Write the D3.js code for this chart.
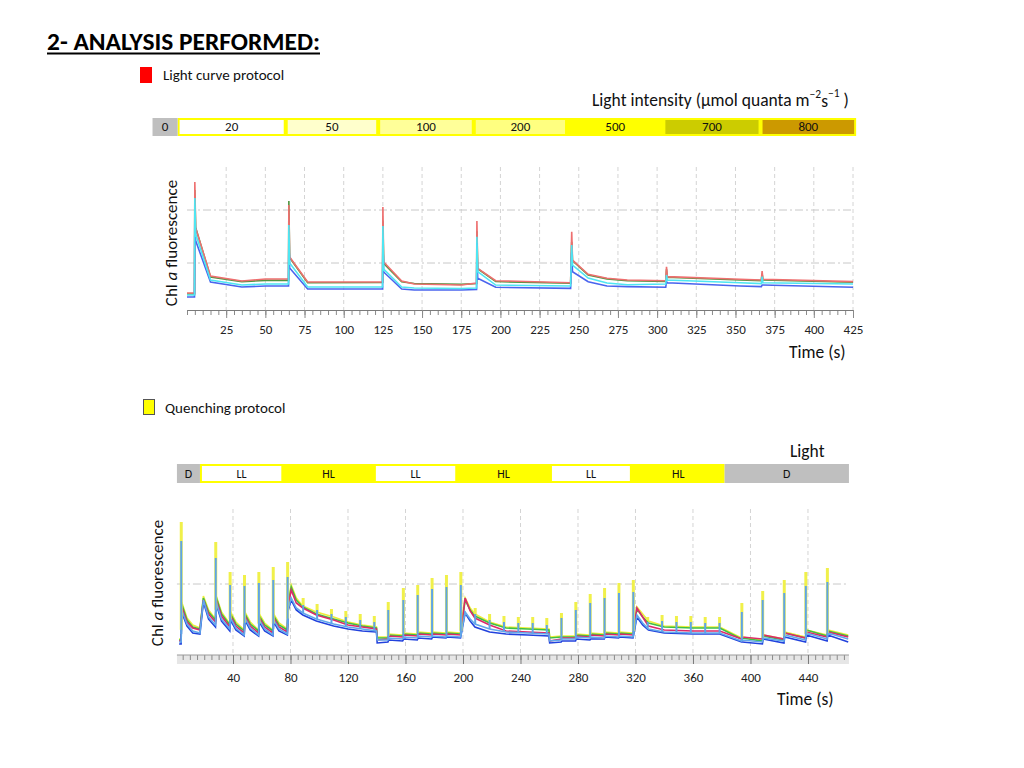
<!DOCTYPE html>
<html><head><meta charset="utf-8">
<script src="https://cdn.jsdelivr.net/npm/d3@7"></script>
<style>body{margin:0;background:#fff}svg{display:block}</style>
</head><body><svg id="chart"></svg>
<script>
// ================= DATA =================
// Light curve protocol: light steps (µmol quanta m-2 s-1) and their time edges (s)
const lightCurveLevels = ["0","20","50","100","200","500","700","800"];
const lightCurveEdges = [-22, -6, 63, 122, 183, 242.5, 304, 366, 427];
const lcTicks = [25,50,75,100,125,150,175,200,225,250,275,300,325,350,375,400,425];
const lcGrid = [50, 100];
// Light curve fluorescence (a.u.) for four samples
const lcTime  = [0,4.8,5,5.5,15,35,50,64.8,65,65.5,77,124.8,125,125.5,137,145,175,184.8,185,185.5,197,244.8,245.5,246,256,268,281,305.5,306,306.5,353,366.5,367,367.5,425];
const lcRed   = [21.7,21.7,126.4,83.0,37.7,33.0,34.9,34.9,104.7,55.7,32.1,32.1,102.8,50.9,33.0,30.2,29.2,31.1,89.6,45.0,33.3,31.4,79.5,52.8,39.3,35.6,34.0,33.3,46.5,37.1,34.6,34.0,42.5,34.6,32.4];
const lcGreen = [20.8,20.8,118.9,83.5,36.8,32.4,33.6,33.6,108.5,55.0,31.4,31.6,90.0,49.6,32.3,30.6,29.8,30.6,80.0,44.6,32.5,30.9,70.0,52.2,38.7,35.0,33.3,32.6,44.0,36.6,34.0,33.4,40.0,34.0,31.8];
const lcCyan  = [19.8,19.8,111.3,77.4,34.0,29.2,30.2,30.2,85.8,50.0,27.4,27.4,85.0,44.3,27.4,26.4,26.0,26.4,74.8,41.8,29.2,28.3,67.0,48.1,35.8,31.1,29.5,30.2,38.7,34.0,31.4,30.5,37.1,31.4,30.2];
const lcBlue  = [17.9,17.9,98.1,71.1,32.1,27.4,28.3,28.3,71.7,45.3,25.5,25.5,72.0,41.5,25.5,24.5,24.5,25.0,68.9,35.6,27.1,26.1,60.0,41.8,32.4,28.3,27.7,27.1,32.4,31.4,28.3,27.7,29.2,29.2,27.1];

// Quenching protocol: light phases and their time edges (s)
const qPhases = ["D","LL","HL","LL","HL","LL","HL","D"];
const qPhaseEdges = [1, 17, 75, 138, 196, 260.5, 317.5, 382, 468.5];
const qTicks = [40,80,120,160,200,240,280,320,360,400,440];
const qGrid = [76];
// Quenching fluorescence baseline (a.u.) for five samples
const qTime = [2.5,3.9,4.3,8,12,17,19.4,23,27.8,28.3,32,37.8,38.3,42,47.8,48.3,52,57.8,58.3,62,67.8,68.3,72,77.8,78.3,80.5,84,88.6,98,110,120,130,139.8,140.3,147.8,148.3,158,158.8,168.2,168.8,178.2,178.8,188.2,188.8,198.3,201.5,205,208.3,218.5,230,245,259.8,260.3,268.3,268.8,278.3,278.8,288.3,288.8,298.3,298.8,308.3,308.8,318.3,321,325,329,340,360,378.6,393.8,394.3,408.3,408.8,423.3,423.8,438.3,438.8,453.3,453.8,468];
const qYellow = [21,21,58,42,35,32,64,50,41,64, 48,36,48,38,30,48,38,30,46,37, 30,46,37,31,57,75,62,54,48,43, 38,35,33,23,23,26,25,27,26,28, 27,28,27,28,27,62,52,46,38,33, 32,31,23,24,24,24,26,25,27,26, 28,27,28,27,53,46,39,34,33,33, 22,23,20,25,21,28,23,30,25,30, 25];
const qGreen = [20,20,56,40,33,31,62,48,40,63, 46,35,46,36,29,46,36,29,44,35, 29,44,35,30,55,73,60,53,46,41, 37,34,32,22,22,25,24,26,25,27, 26,27,26,27,26,60,50,44,37,32, 31,30,22,23,23,23,25,24,26,25, 27,26,27,26,51,43,37,33,32,32, 21,22,19,24,20,27,22,30,24,29, 24];
const qRed = [19,19,53,38,32,30,60,46,38,60, 44,33,44,34,27,44,34,27,42,33, 27,42,33,28,53,70,57,52,45,40, 35,33,31,20,21,24,23,25,24,26, 25,26,25,26,25,62,49,42,35,29, 28,27,19,21,22,22,24,23,25,24, 26,25,26,25,52,43,34,30,29,29, 21,23,21,25,21,27,22,28,23,28, 23];
const qLightBlue = [18,18,50,36,29,27,60,43,35,58, 41,31,42,32,25,42,32,25,40,31, 25,40,31,26,51,62,52,47,41,36, 33,31,29,20,20,22,21,23,22,24, 23,24,23,24,23,48,41,36,31,28, 27,26,19,20,21,21,23,22,23,22, 24,23,24,23,45,37,31,28,27,27, 19,20,18,22,19,25,20,27,21,27, 21];
const qBlue = [16,16,48,34,27,26,58,41,33,56, 39,29,40,30,24,40,30,24,38,29, 24,38,29,25,49,60,50,45,39,34, 31,29,28,17,18,20,19,21,20,22, 21,23,22,23,22,47,39,33,28,26, 25,24,17,18,19,19,21,20,21,21, 23,22,23,22,43,35,30,27,26,26, 18,18,16,21,17,23,18,25,19,25, 18];
// Saturating pulses: time (s) and peak fluorescence
const qPulseTime = [4,28,38,48,58,68,78,88.8,98.5,108.5,118.5,128.5,138.3,148,158.5,168.5,178.5,188.5,198.5,208.5,218.5,228.5,238.5,248.5,258.3,268.5,278.5,288.5,298.5,308.5,318.5,328.5,338.5,348.5,358.5,368.5,378.5,394,408.5,423.5,438.5,453.5];
const qPulseYellow = [138,118,88,85,88,93,98,62,56,51,49,46,44,58,72,75,82,85,88,52,46,44,43,43,42,47,58,66,72,77,80,43,45,44,44,43,43,57,69,80,88,92];
const qPulseLightBlue = [119,102,75,74,77,80,83,55,50,46,43,40,38,50,60,65,71,73,75,46,40,38,37,37,35,42,50,57,62,67,68,38,39,38,38,37,37,48,60,67,74,78];

// ================= STYLE =================
const FONT = "Calibri, Carlito, Lato, 'Open Sans', sans-serif";
const LC_FILLS = ["#bfbfbf","#ffffff","#ffffcc","#ffff99","#ffff80","#ffff00","#cccc00","#cc9900"];

const svg = d3.select("#chart").attr("width",1024).attr("height",768)
  .style("font-family", FONT);
svg.append("rect").attr("width",1024).attr("height",768).attr("fill","#fff");

// ---- Title ----
svg.append("text").attr("x",47).attr("y",50).attr("font-size",25).attr("font-weight",700)
  .attr("textLength",273).attr("lengthAdjust","spacingAndGlyphs").attr("fill","#000")
  .text("2- ANALYSIS PERFORMED:");
svg.append("rect").attr("x",47).attr("y",52.5).attr("width",273).attr("height",2).attr("fill","#000");

// ================= TOP: LIGHT CURVE =================
svg.append("rect").attr("x",140).attr("y",67).attr("width",12).attr("height",16).attr("fill","#ff0000");
svg.append("text").attr("x",163).attr("y",80).attr("font-size",15).attr("fill","#111").text("Light curve protocol");

const li = svg.append("text").attr("x",592).attr("y",106).attr("font-size",17.5).attr("fill","#111");
li.append("tspan").text("Light  intensity (µmol quanta m");
li.append("tspan").attr("dy",-8).attr("font-size",11.5).text("−2");
li.append("tspan").attr("dy",9).text("s");
li.append("tspan").attr("dy",-10).attr("font-size",11.5).text("−1");
li.append("tspan").attr("dy",9).text(" )");

const xTop = d3.scaleLinear().domain([0,425]).range([187,853]);
const yTop = d3.scaleLinear().domain([0,150]).range([316,157]);
const topAxisY = 310;

// protocol bar
const barT = svg.append("g");
const tb0 = 118, tbH = 18;
barT.append("rect").attr("x",xTop(lightCurveEdges[1])).attr("y",tb0)
  .attr("width",xTop(lightCurveEdges[8])-xTop(lightCurveEdges[1])).attr("height",tbH).attr("fill","#ffff00");
lightCurveLevels.forEach((lv,i)=>{
  const x0 = xTop(lightCurveEdges[i]), x1 = xTop(lightCurveEdges[i+1]);
  const inset = i===0 ? 0 : 2;
  barT.append("rect").attr("x",x0+inset).attr("y",tb0+inset)
    .attr("width",x1-x0-2*inset).attr("height",tbH-2*inset).attr("fill",LC_FILLS[i]);
  barT.append("text").attr("x",(x0+x1)/2).attr("y",tb0+13).attr("text-anchor","middle")
    .attr("font-size",13).attr("fill","#111").text(lv);
});

// grid
const gT = svg.append("g");
gT.selectAll(".vg").data(lcTicks).join("line")
  .attr("x1",d=>xTop(d)).attr("x2",d=>xTop(d)).attr("y1",167).attr("y2",topAxisY)
  .attr("stroke","#d4d4d4").attr("stroke-dasharray","4,3");
gT.selectAll(".hg").data(lcGrid).join("line")
  .attr("x1",xTop(0)).attr("x2",xTop(425)).attr("y1",d=>yTop(d)).attr("y2",d=>yTop(d))
  .attr("stroke","#c8c8c8").attr("stroke-dasharray","8,3,2,3");

// axis
const axT = svg.append("g").attr("transform",`translate(0,${topAxisY})`);
axT.call(d3.axisBottom(xTop).tickValues(d3.range(0,426,5)).tickSize(5).tickFormat("").tickSizeOuter(0));
axT.select(".domain").remove();
const axT2 = svg.append("g").attr("transform",`translate(0,${topAxisY})`);
axT2.call(d3.axisBottom(xTop).tickValues(lcTicks).tickSize(8).tickPadding(7).tickSizeOuter(0));
svg.selectAll(".tick line").attr("stroke","#8a8a8a");
axT2.select(".domain").attr("stroke","#7a7a7a").attr("stroke-width",1.2);
axT2.selectAll("text").attr("font-size",13).attr("fill","#222").style("font-family",FONT);

// lines
const lineT = d3.line().x(d=>xTop(d[0])).y(d=>yTop(d[1]));
const topSeries = [
  {vals: lcGreen, color:"#4f9640"},
  {vals: lcRed, color:"#ee6f6f"},
  {vals: lcBlue, color:"#4a64ee"},
  {vals: lcCyan, color:"#4ee6f2"}
];
topSeries.forEach(s=>{
  svg.append("path").datum(lcTime.map((t,i)=>[t,s.vals[i]]))
    .attr("d",lineT).attr("fill","none").attr("stroke",s.color).attr("stroke-width",1.6);
});

// labels
const yl1 = svg.append("text").attr("transform","translate(177,243) rotate(-90)")
  .attr("text-anchor","middle").attr("font-size",17).attr("fill","#111");
yl1.append("tspan").text("Chl ");
yl1.append("tspan").attr("font-style","italic").text("a");
yl1.append("tspan").text(" fluorescence");
svg.append("text").attr("x",789).attr("y",358).attr("font-size",17.5).attr("fill","#111").text("Time (s)");

// ================= BOTTOM: QUENCHING =================
svg.append("rect").attr("x",143.5).attr("y",399.5).attr("width",11).attr("height",15)
  .attr("fill","#ffff00").attr("stroke","#555").attr("stroke-width",1);
svg.append("text").attr("x",165).attr("y",413).attr("font-size",15).attr("fill","#111").text("Quenching protocol");
svg.append("text").attr("x",790).attr("y",457).attr("font-size",17.5).attr("fill","#111").text("Light");

const xQ = d3.scaleLinear().domain([0,470]).range([175.5,851.1]);
const yQ = d3.scaleLinear().domain([0,160]).range([660,500]);
const qAxisY = 655;

// protocol bar
const qb0 = 464, qbH = 19;
svg.append("rect").attr("x",xQ(qPhaseEdges[1])).attr("y",qb0)
  .attr("width",xQ(qPhaseEdges[7])-xQ(qPhaseEdges[1])).attr("height",qbH).attr("fill","#ffff00");
qPhases.forEach((p,i)=>{
  const x0 = xQ(qPhaseEdges[i]), x1 = xQ(qPhaseEdges[i+1]);
  if (p==="D") svg.append("rect").attr("x",x0).attr("y",qb0).attr("width",x1-x0).attr("height",qbH).attr("fill","#bfbfbf");
  if (p==="LL") svg.append("rect").attr("x",x0+2).attr("y",qb0+2).attr("width",x1-x0-4).attr("height",qbH-4).attr("fill","#ffffff");
  svg.append("text").attr("x",(x0+x1)/2).attr("y",qb0+14).attr("text-anchor","middle")
    .attr("font-size",12).attr("fill","#111").text(p);
});

// strip + grid
svg.append("rect").attr("x",xQ(1)).attr("y",qAxisY).attr("width",xQ(468.5)-xQ(1)).attr("height",9).attr("fill","#e6e6e6");
const gQ = svg.append("g");
gQ.selectAll(".vg").data(qTicks).join("line")
  .attr("x1",d=>xQ(d)).attr("x2",d=>xQ(d)).attr("y1",509).attr("y2",qAxisY)
  .attr("stroke","#d4d4d4").attr("stroke-dasharray","4,3");
gQ.selectAll(".hg").data(qGrid).join("line")
  .attr("x1",xQ(1)).attr("x2",xQ(468.5)).attr("y1",d=>yQ(d)).attr("y2",d=>yQ(d))
  .attr("stroke","#c8c8c8").attr("stroke-dasharray","8,3,2,3");

// axis
const axQ = svg.append("g").attr("transform",`translate(0,${qAxisY})`);
axQ.call(d3.axisBottom(xQ).tickValues(d3.range(5,468,5)).tickSize(5).tickFormat("").tickSizeOuter(0));
axQ.select(".domain").remove();
const axQ2 = svg.append("g").attr("transform",`translate(0,${qAxisY})`);
axQ2.call(d3.axisBottom(xQ).tickValues(qTicks).tickSize(9).tickPadding(9).tickSizeOuter(0));
axQ.selectAll(".tick line").attr("stroke","#8a8a8a");
axQ2.selectAll(".tick line").attr("stroke","#7a7a7a");
axQ2.select(".domain").attr("d",`M${xQ(1)},0H${xQ(468.5)}`).attr("stroke","#9a9a9a");
axQ2.selectAll("text").attr("font-size",13).attr("fill","#222").style("font-family",FONT);

// lines
const lineQ = d3.line().x(d=>xQ(d[0])).y(d=>yQ(d[1]));
const qSeries = [
  {vals:qYellow, color:"#eeee3a"},
  {vals:qGreen, color:"#3fbf45"},
  {vals:qRed, color:"#dc2a6a"},
  {vals:qBlue, color:"#2242dd"},
  {vals:qLightBlue, color:"#62a8ea"}
];
qSeries.forEach(s=>{
  svg.append("path").datum(qTime.map((t,i)=>[t,s.vals[i]]))
    .attr("d",lineQ).attr("fill","none").attr("stroke",s.color).attr("stroke-width",1.6);
});
const interp = (arr,t)=>{
  const i = d3.bisectRight(qTime,t);
  if (i<=0) return arr[0];
  if (i>=qTime.length) return arr[arr.length-1];
  const f = (t-qTime[i-1])/(qTime[i]-qTime[i-1]);
  return arr[i-1]+f*(arr[i]-arr[i-1]);
};
svg.append("g").selectAll("line").data(qPulseTime).join("line")
  .attr("x1",d=>xQ(d)).attr("x2",d=>xQ(d))
  .attr("y1",d=>yQ(interp(qYellow,d))).attr("y2",(d,i)=>yQ(qPulseYellow[i]))
  .attr("stroke","#f0f04a").attr("stroke-width",3);
svg.append("g").selectAll("line").data(qPulseTime).join("line")
  .attr("x1",d=>xQ(d)).attr("x2",d=>xQ(d))
  .attr("y1",d=>yQ(interp(qLightBlue,d))).attr("y2",(d,i)=>yQ(qPulseLightBlue[i]))
  .attr("stroke","#5ea4e8").attr("stroke-width",2);

// labels
const yl2 = svg.append("text").attr("transform","translate(163,583) rotate(-90)")
  .attr("text-anchor","middle").attr("font-size",17).attr("fill","#111");
yl2.append("tspan").text("Chl ");
yl2.append("tspan").attr("font-style","italic").text("a");
yl2.append("tspan").text(" fluorescence");
svg.append("text").attr("x",777).attr("y",705).attr("font-size",17.5).attr("fill","#111").text("Time (s)");
</script>
</body></html>
